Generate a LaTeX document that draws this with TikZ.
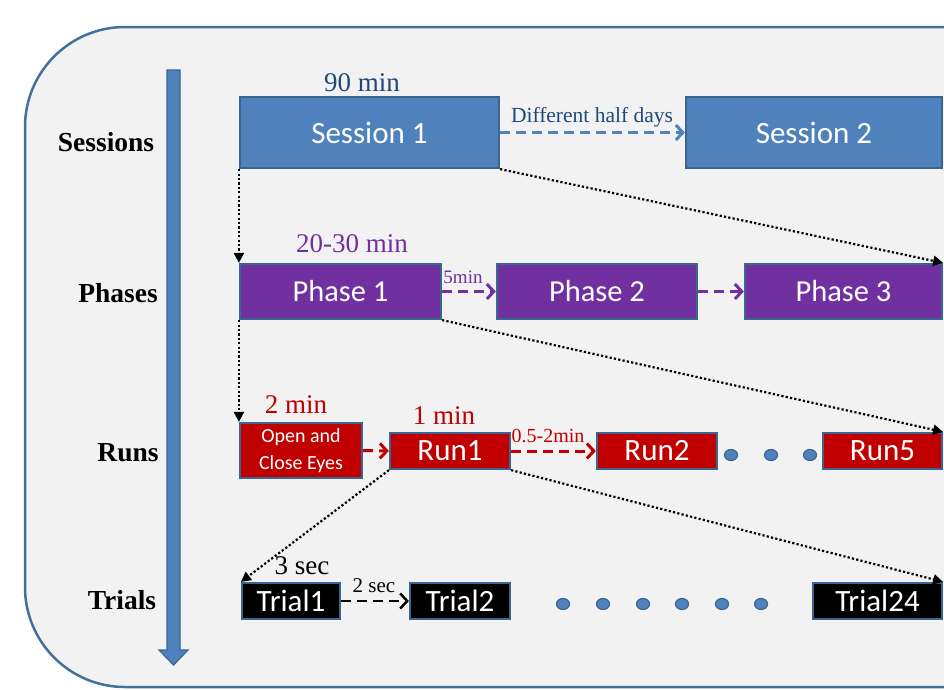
\documentclass[tikz,border=0pt]{standalone}
\usepackage{fontspec}
\setmainfont{Liberation Serif}
\newfontfamily\carlito{Carlito}
\usetikzlibrary{arrows.meta}
\newcommand\fsz[1]{\fontsize{#1}{#1}\selectfont}
\definecolor{panelbg}{HTML}{F2F2F2}
\definecolor{panelrim}{HTML}{41719C}
\definecolor{boxrim}{HTML}{3A6590}
\definecolor{sessblue}{HTML}{4F81BD}
\definecolor{phasepurple}{HTML}{7030A0}
\definecolor{runred}{HTML}{C00000}
\definecolor{labelblue}{HTML}{1F497D}
\tikzset{
  stagebox/.style={draw=boxrim, line width=2.2pt, inner sep=0pt, text=white, font=\carlito},
  levellabel/.style={inner sep=0pt, font=\fsz{27.5}\bfseries},
  timelabel/.style={inner sep=0pt, font=\fsz{27}},
  gaplabel/.style={inner sep=0pt, font=\fsz{20}},
  gaparrow/.style={line width=3pt, dash pattern=on 10pt off 6pt, -{Straight Barb[length=7pt,width=15pt]}},
  zoomarrow/.style={black, line width=2.2pt, dash pattern=on 2.2pt off 2.2pt, -{Triangle[length=10pt,width=10pt]}},
  moredot/.style={fill=sessblue, draw=boxrim, line width=1.2pt},
}
\begin{document}
\begin{tikzpicture}[x=1pt, y=-1pt]
\useasboundingbox (0,0) rectangle (944,689);
\clip (0,0) rectangle (944,689);
% panel
\fill[white] (0,0) rectangle (944,689);
\draw[panelrim, fill=panelbg, line width=2.5pt, rounded corners=100pt] (25,27) rectangle (1150,687);

% time axis
\filldraw[fill=sessblue, draw=boxrim, line width=1.2pt]
  (167,70) -- (180,70) -- (180,650) -- (188,650) -- (173.5,665) -- (159,650) -- (167,650) -- cycle;

% level names
\node[levellabel] (lsess) at (106,142) {Sessions};
\node[levellabel] (lphase) at (118,293) {Phases};
\node[levellabel] (lrun) at (128,453) {Runs};
\node[levellabel] (ltrial) at (122,600) {Trials};

% sessions
\node[stagebox, fill=sessblue, minimum width=259pt, minimum height=71pt, font=\carlito\fsz{31}] (s1) at (369.5,132.5) {Session 1};
\node[stagebox, fill=sessblue, minimum width=256pt, minimum height=71pt, font=\carlito\fsz{31}] (s2) at (814,132.5) {Session 2};
\node[timelabel, text=labelblue] (t90) at (362,83) {90 min};
\draw[gaparrow, sessblue] (s1.east) -- (s2.west);
\node[inner sep=0pt, font=\fsz{21.5}, text=labelblue] (lhalf) at (592,117) {Different half days};

% phases
\node[stagebox, fill=phasepurple, minimum width=201pt, minimum height=55pt, font=\carlito\fsz{30.5}] (p1) at (340.5,291.5) {Phase 1};
\node[stagebox, fill=phasepurple, minimum width=200pt, minimum height=55pt, font=\carlito\fsz{30.5}] (p2) at (597,291.5) {Phase 2};
\node[stagebox, fill=phasepurple, minimum width=197pt, minimum height=55pt, font=\carlito\fsz{30.5}] (p3) at (843.5,291.5) {Phase 3};
\node[timelabel, text=phasepurple] (t2030) at (352,244) {20-30 min};
\draw[gaparrow, phasepurple] (p1.east) -- (p2.west);
\draw[gaparrow, phasepurple] (p2.east) -- (p3.west);
\node[inner sep=0pt, font=\fsz{19}, text=phasepurple] (l5) at (463,277) {5min};

% runs
\node[stagebox, fill=runred, minimum width=122pt, minimum height=55pt, align=center, font=\carlito\fontsize{20}{27}\selectfont] (oc) at (301,450.5) {Open and\\Close Eyes};
\node[stagebox, fill=runred, minimum width=120pt, minimum height=36pt, font=\carlito\fsz{31}] (r1) at (450,451) {Run1};
\node[stagebox, fill=runred, minimum width=120pt, minimum height=36pt, font=\carlito\fsz{31}] (r2) at (657,451) {Run2};
\node[stagebox, fill=runred, minimum width=119pt, minimum height=36pt, font=\carlito\fsz{31}] (r5) at (882.5,451) {Run5};
\node[timelabel, text=runred] (t2) at (296,405) {2 min};
\node[timelabel, text=runred] (t1) at (444,416) {1 min};
\draw[gaparrow, runred] (oc.east) -- (r1.west);
\draw[gaparrow, runred] (r1.east) -- (r2.west);
\node[gaplabel, text=runred] (lrest) at (548,436) {0.5-2min};
\foreach \x in {731,771,810} \filldraw[moredot] (\x,455) ellipse (6.5pt and 5.5pt);

% trials
\node[stagebox, fill=black, minimum width=98pt, minimum height=36pt, font=\carlito\fsz{31}] (tr1) at (291,601) {Trial1};
\node[stagebox, fill=black, minimum width=100pt, minimum height=36pt, font=\carlito\fsz{31}] (tr2) at (460,601) {Trial2};
\node[stagebox, fill=black, minimum width=129pt, minimum height=36pt, font=\carlito\fsz{31}] (tr24) at (877.5,601) {Trial24};
\node[timelabel] (t3s) at (302,566) {3 sec};
\draw[gaparrow, black, line width=2.5pt] (tr1.east) -- (tr2.west);
\node[inner sep=0pt, font=\fsz{21}] (l2s) at (374,586) {2 sec};
\foreach \x in {563,603,643,682,722,761} \filldraw[moredot] (\x,604) ellipse (6.5pt and 5.5pt);

% zoom-in connectors between levels
\draw[zoomarrow] (s1.south west) -- (p1.north west);
\draw[zoomarrow] (s1.south east) -- (p3.north east);
\draw[zoomarrow] (p1.south west) -- (oc.north west);
\draw[zoomarrow] (p1.south east) -- (r5.north east);
\draw[zoomarrow] (r1.south west) -- (tr1.north west);
\draw[zoomarrow] (r1.south east) -- (tr24.north east);
\end{tikzpicture}
\end{document}
